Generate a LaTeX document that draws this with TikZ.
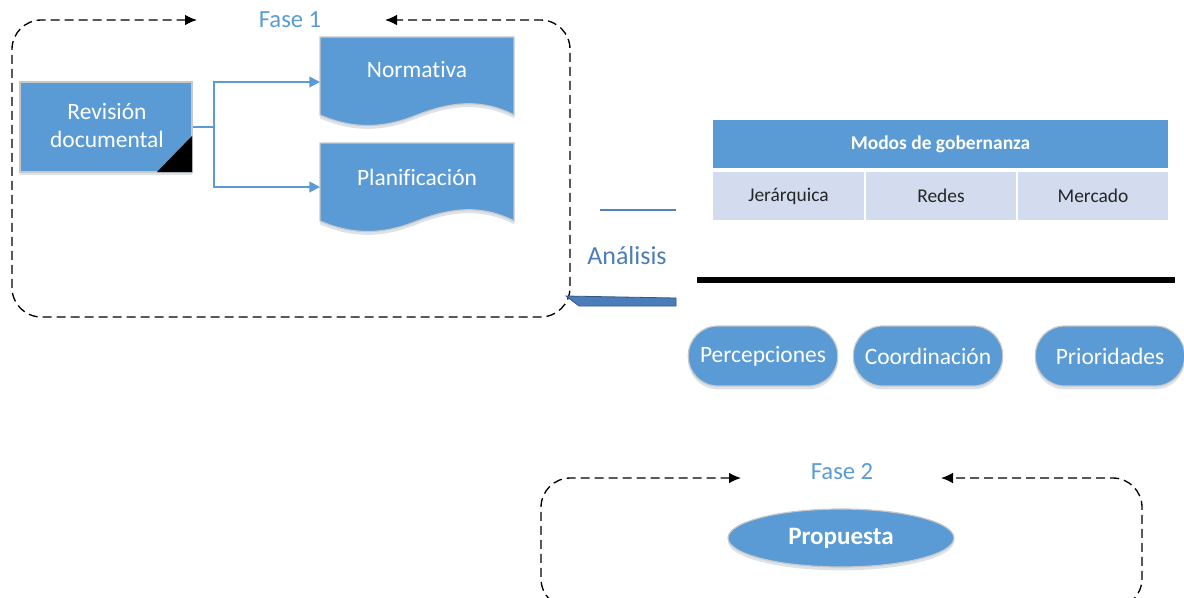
\documentclass[tikz,border=0pt]{standalone}
\usepackage{fontspec}
\setmainfont{Carlito}[Ligatures=NoCommon]
\usetikzlibrary{arrows.meta,shadows,shapes.geometric,calc}
\definecolor{mainblue}{HTML}{5B9BD5}
\definecolor{lightrow}{HTML}{D2DCEE}
\definecolor{darkblue}{HTML}{4A7DBA}
\definecolor{bordergray}{HTML}{C8C8C8}
\definecolor{txt}{HTML}{262626}
\tikzset{
  shade/.style={drop shadow={opacity=0.18,shadow xshift=0pt,shadow yshift=-2.5pt,fill=mainblue!60!black}},
  bluebox/.style={draw=bordergray,line width=0.9pt,fill=mainblue,shade,text=white,font=\fontsize{17.6}{21}\selectfont,align=center,inner sep=0pt},
  ghost/.style={inner sep=0pt,outer sep=0pt,minimum width=145.5pt},
  wtext/.style={text=white,font=\fontsize{17.6}{21}\selectfont,inner sep=0pt},
  pill/.style={bluebox,rounded corners=22pt,minimum width=112pt,minimum height=45pt},
  cell/.style={fill=lightrow,minimum width=112.5pt,minimum height=36pt,inner sep=0pt,text=txt,font=\fontsize{14.6}{17}\selectfont},
  conn/.style={draw=mainblue,line width=1.5pt,-{Triangle[length=8pt,width=8pt]}},
  fase/.style={text=mainblue,font=\fontsize{18.5}{22}\selectfont,inner sep=0pt},
  dashbox/.style={black,line width=1pt,dash pattern=on 6.75pt off 3.75pt,rounded corners=22pt,{Latex[length=9pt,width=8pt]}-{Latex[length=9pt,width=8pt]}}
}
\begin{document}
\begin{tikzpicture}[x=0.75pt,y=-0.75pt]
\useasboundingbox (0,0) rectangle (1184,597);

% Fase 1 frame
\node[fase] (fase1) at (290,20) {Fase 1};
\draw[dashbox] (197,20) -- (12,20) -- (12,317) -- (570,317) -- (570,20) -- (385,20);

% Revision documental
\node[bluebox,minimum width=129pt,minimum height=67.5pt] (rev) at (106,127) {};
\fill[black] (157,172) -- (192,172) -- (192,136) -- cycle;
\node[wtext,align=center] (revt) at (107,126) {Revisión\\documental};

% Normativa document
\node[ghost,minimum height=67.5pt] (norm) at (417,82) {};
\filldraw[draw=bordergray,line width=0.9pt,fill=mainblue,shade]
  (320,37) -- (514,37) -- (514,115) .. controls (485,100) and (455,100) .. (417,115)
  .. controls (380,130) and (350,128) .. (320,115) -- cycle;
\node[wtext] (normt) at (417,70) {Normativa};

% Planificacion document
\node[ghost,minimum height=67.5pt] (plan) at (417,187) {};
\filldraw[draw=bordergray,line width=0.9pt,fill=mainblue,shade]
  (320,143) -- (514,143) -- (514,221) .. controls (485,206) and (455,206) .. (417,221)
  .. controls (380,236) and (350,234) .. (320,221) -- cycle;
\node[wtext] (plant) at (417,177) {Planificación};

% connectors
\coordinate (split) at (214,127);
\draw[draw=mainblue,line width=1.5pt] (rev.east) -- (split);
\draw[conn] (split) |- (norm.west);
\draw[conn] (split) |- (plan.west);

% Analisis
\coordinate (aTopL) at (600,210);
\coordinate (aTopR) at (676,210);
\draw[darkblue!80!mainblue,line width=1.4pt] (aTopL) -- (aTopR);
\node[text=darkblue,font=\fontsize{19.5}{23}\selectfont,inner sep=0pt] (anal) at (627,256) {Análisis};
\filldraw[draw=darkblue!70!black,line width=0.6pt,fill=darkblue] (566,296) -- (676,298) -- (676,306) -- (579,306) -- cycle;

% Table
\node[fill=mainblue,minimum width=341.25pt,minimum height=36pt,inner sep=0pt,text=white,font=\bfseries\fontsize{14.6}{17}\selectfont] (head) at (940.5,144) {Modos de gobernanza};
\node[cell,minimum width=113pt] (c1) at (788.5,196) {Jerárquica};
\node[cell,minimum width=112pt] (c2) at (941,196) {Redes};
\node[cell,minimum width=112.5pt] (c3) at (1093,196) {Mercado};

% thick line
\coordinate (bl) at (697,280);
\coordinate (br) at (1175,280);
\draw[black,line width=4.5pt] (bl) -- (br);

% pills
\node[pill] (p1) at (763,356) {Percepciones};
\node[pill] (p2) at (928,356) {Coordinación};
\node[pill] (p3) at (1110,356) {Prioridades};

% Fase 2
\node[fase] (fase2) at (842,472) {Fase 2};
\draw[dashbox] (741,478) -- (541,478) -- (541,608) -- (1142,608) -- (1142,478) -- (941,478);
\node[ellipse,draw=bordergray,line width=0.9pt,fill=mainblue,shade,minimum width=169.5pt,minimum height=43.5pt,inner sep=0pt,text=white,font=\bfseries\fontsize{18.8}{22}\selectfont] (prop) at (841,538) {Propuesta};
\end{tikzpicture}
\end{document}
